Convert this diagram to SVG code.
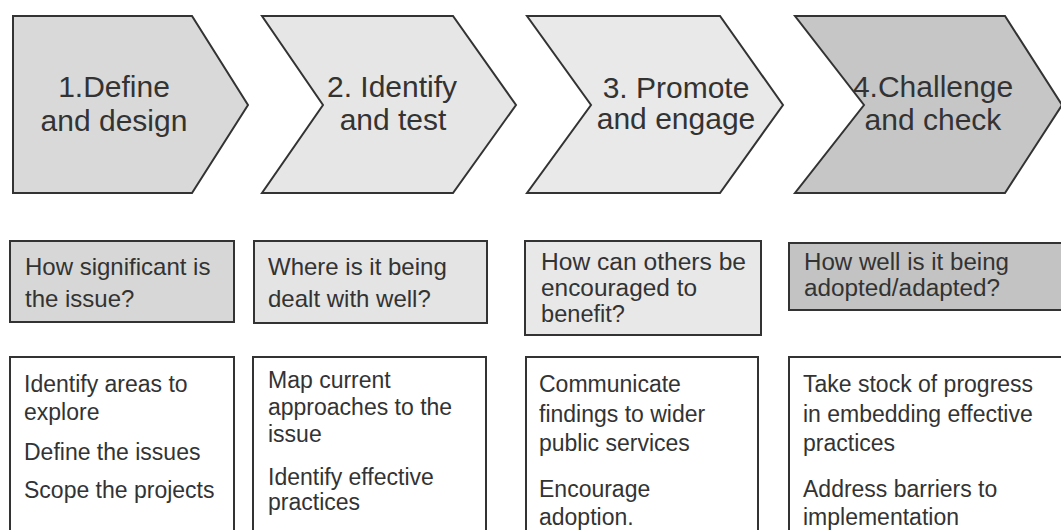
<svg xmlns="http://www.w3.org/2000/svg" width="1061" height="530" viewBox="0 0 1061 530">
<style>
.shape{stroke:#333;stroke-width:2;stroke-linejoin:miter}
.big{font-family:"Liberation Sans",Arial,sans-serif;font-size:30px;fill:#333;text-anchor:middle}
.mid{font-family:"Liberation Sans",Arial,sans-serif;font-size:24px;fill:#333}
.tight{font-family:"Liberation Sans",Arial,sans-serif;font-size:23px;fill:#333}
.low{font-family:"Liberation Sans",Arial,sans-serif;font-size:23px;fill:#333}
</style>
<rect width="1061" height="530" fill="#fff"/>
<g id="step1">
<path class="shape" fill="#d9d9d9" d="M13,16 L192,16 L248,105 L192,193 L13,193 Z"/>
<text class="big" x="114" y="97">1.Define</text>
<text class="big" x="114" y="131">and design</text>
</g>
<g id="step2">
<path class="shape" fill="#e6e6e6" d="M262,16 L453,16 L516,105 L453,193 L262,193 L323,105 Z"/>
<text class="big" x="392" y="97">2. Identify</text>
<text class="big" x="393" y="130">and test</text>
</g>
<g id="step3">
<path class="shape" fill="#e9e9e9" d="M527,16 L720,16 L783,105 L720,193 L527,193 L591,105 Z"/>
<text class="big" x="676" y="98">3. Promote</text>
<text class="big" x="676" y="129">and engage</text>
</g>
<g id="step4">
<path class="shape" fill="#c6c6c6" d="M795,16 L1005,16 L1062,105 L1005,193 L795,193 L864,105 Z"/>
<text class="big" x="933" y="97">4.Challenge</text>
<text class="big" x="933" y="130">and check</text>
</g>
<g id="q1">
<rect class="shape" fill="#d7d7d7" x="10" y="241" width="224" height="81"/>
<text class="mid" x="25" y="275">How significant is</text>
<text class="mid" x="25" y="307">the issue?</text>
</g>
<g id="q2">
<rect class="shape" fill="#e4e4e4" x="254" y="241" width="233" height="82"/>
<text class="mid" x="268" y="275">Where is it being</text>
<text class="mid" x="268" y="307">dealt with well?</text>
</g>
<g id="q3">
<rect class="shape" fill="#e8e8e8" x="525" y="241" width="236" height="94"/>
<text class="tight" x="541" y="270" textLength="205" lengthAdjust="spacingAndGlyphs">How can others be</text>
<text class="tight" x="541" y="296" textLength="156" lengthAdjust="spacingAndGlyphs">encouraged to</text>
<text class="tight" x="541" y="322" textLength="84" lengthAdjust="spacingAndGlyphs">benefit?</text>
</g>
<g id="q4">
<rect class="shape" fill="#c3c3c3" x="789" y="243" width="290" height="67"/>
<text class="tight" x="804" y="270" textLength="205" lengthAdjust="spacingAndGlyphs">How well is it being</text>
<text class="tight" x="804" y="296" textLength="196" lengthAdjust="spacingAndGlyphs">adopted/adapted?</text>
</g>
<g id="a1">
<rect class="shape" fill="#fff" x="10" y="357" width="224" height="200"/>
<text class="low" x="24" y="392">Identify areas to</text>
<text class="low" x="24" y="420">explore</text>
<text class="low" x="24" y="460">Define the issues</text>
<text class="low" x="24" y="498">Scope the projects</text>
</g>
<g id="a2">
<rect class="shape" fill="#fff" x="253" y="357" width="233" height="200"/>
<text class="low" x="268" y="388">Map current</text>
<text class="low" x="268" y="415">approaches to the</text>
<text class="low" x="268" y="442">issue</text>
<text class="low" x="268" y="485">Identify effective</text>
<text class="low" x="268" y="510">practices</text>
</g>
<g id="a3">
<rect class="shape" fill="#fff" x="526" y="357" width="232" height="200"/>
<text class="low" x="539" y="392">Communicate</text>
<text class="low" x="539" y="422">findings to wider</text>
<text class="low" x="539" y="451">public services</text>
<text class="low" x="539" y="497">Encourage</text>
<text class="low" x="539" y="525">adoption.</text>
</g>
<g id="a4">
<rect class="shape" fill="#fff" x="789" y="357" width="290" height="200"/>
<text class="low" x="803" y="392">Take stock of progress</text>
<text class="low" x="803" y="422">in embedding effective</text>
<text class="low" x="803" y="451">practices</text>
<text class="low" x="803" y="497">Address barriers to</text>
<text class="low" x="803" y="525">implementation</text>
</g>
<g id="connectors"/>
</svg>
